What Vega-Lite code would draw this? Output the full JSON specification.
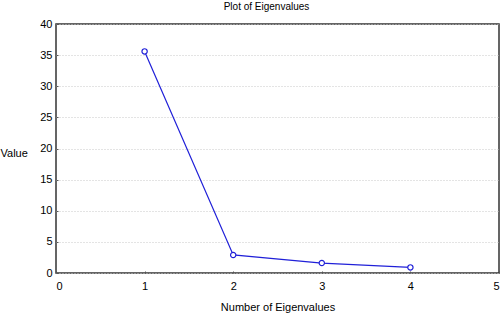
{
  "$schema": "https://vega.github.io/schema/vega-lite/v6.json",
  "autosize": "none",
  "width": 443,
  "height": 249,
  "padding": {"left": 56, "top": 24, "right": 3, "bottom": 40},
  "background": "white",
  "config": {
    "font": "Liberation Sans",
    "view": {"stroke": "#333333", "strokeWidth": 1.5},
    "axis": {"labelFont": "Liberation Sans", "titleFont": "Liberation Sans", "labelFontSize": 11, "titleFontSize": 11, "titleFontWeight": "normal", "labelColor": "#000", "titleColor": "#000", "domain": false, "tickColor": "#555", "tickSize": -2, "labelPadding": 6}
  },
  "title": {"text": "Plot of Eigenvalues", "fontSize": 10, "fontWeight": "normal", "font": "Liberation Sans", "color": "#000", "offset": -4, "baseline": "bottom", "dx": -11},
  "data": {"values": [
    {"n": 1, "v": 35.6},
    {"n": 2, "v": 2.9},
    {"n": 3, "v": 1.6},
    {"n": 4, "v": 0.9}
  ]},
  "encoding": {
    "x": {"field": "n", "type": "quantitative", "scale": {"domain": [0, 5], "nice": false}, "axis": {"values": [0,1,2,3,4,5], "grid": false, "title": "Number of Eigenvalues", "titlePadding": 10, "labelPadding": 9}},
    "y": {"field": "v", "type": "quantitative", "scale": {"domain": [0, 40], "nice": false}, "axis": {"values": [0,5,10,15,20,25,30,35,40], "grid": true, "gridColor": "#c8c8c8", "gridDash": [1, 2], "title": "Value", "titleAngle": 0, "titleX": -56, "titleY": 129, "titleAlign": "left", "titleBaseline": "middle"}}
  },
  "layer": [
    {"mark": {"type": "line", "color": "#2020d8", "strokeWidth": 1.2}},
    {"mark": {"type": "point", "shape": "circle", "size": 28, "filled": true, "fill": "white", "stroke": "#2020d8", "strokeWidth": 1.2, "opacity": 1}}
  ]
}
